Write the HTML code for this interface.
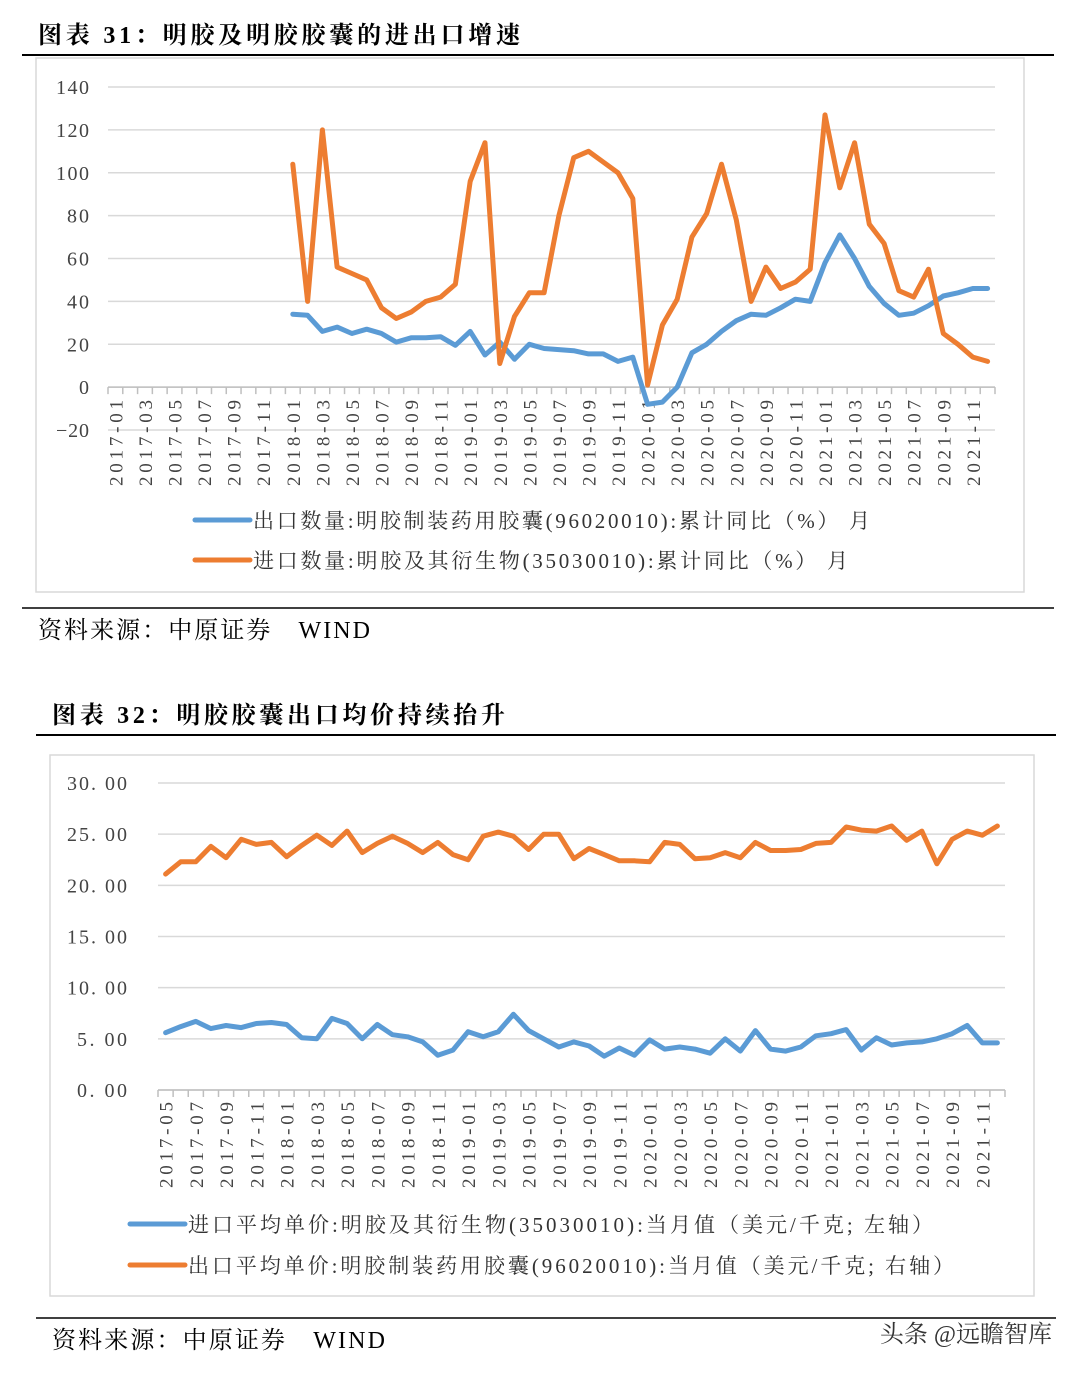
<!DOCTYPE html>
<html><head><meta charset="utf-8">
<style>
body{margin:0;background:#fff;width:1076px;height:1372px;overflow:hidden;font-family:"Liberation Serif","Noto Serif CJK SC",serif;}
svg text{font-family:"Liberation Serif","Noto Serif CJK SC",serif;}
</style></head>
<body>
<svg id="s" width="1076" height="1372" xmlns="http://www.w3.org/2000/svg">
<text x="38" y="43" font-size="24" font-weight="bold" fill="#000" textLength="482" lengthAdjust="spacing">图表 31：明胶及明胶胶囊的进出口增速</text>
<line x1="22" y1="55" x2="1054" y2="55" stroke="#000" stroke-width="2"/>
<rect x="36" y="58" width="988" height="534" fill="none" stroke="#d9d9d9" stroke-width="1.5"/>
<g id="c1"></g>
<line x1="22" y1="608" x2="1054" y2="608" stroke="#000" stroke-width="1.5"/>
<text x="38" y="638" font-size="24" textLength="332" lengthAdjust="spacing">资料来源：中原证券　WIND</text>

<text x="52" y="723" font-size="24" font-weight="bold" textLength="453" lengthAdjust="spacing">图表 32：明胶胶囊出口均价持续抬升</text>
<line x1="36" y1="735" x2="1056" y2="735" stroke="#000" stroke-width="2"/>
<rect x="50" y="755" width="984" height="541" fill="none" stroke="#d9d9d9" stroke-width="1.5"/>
<g id="c2"></g>
<line x1="36" y1="1318" x2="1056" y2="1318" stroke="#000" stroke-width="1.5"/>
<text x="52" y="1348" font-size="24" textLength="333" lengthAdjust="spacing">资料来源：中原证券　WIND</text>
<text x="1052" y="1342" font-size="24" text-anchor="end" fill="#333" font-family="Liberation Sans,Noto Sans CJK SC,sans-serif">头条 @远瞻智库</text>
</svg>
<script>
// Chart 1 data
const c1Months = [];
for(let y=2017;y<=2021;y++)for(let m=1;m<=12;m++)c1Months.push(y+'-'+String(m).padStart(2,'0'));
const c1Ticks = [-20,0,20,40,60,80,100,120,140];
const c1Start = 12; // series start at 2018-01
const c1Export = [34,33.5,26,28,25,27,25,21,23,23,23.5,19.5,26,15,21,13,20,18,17.5,17,15.5,15.5,12,14,-8,-7,0,16,20,26,31,34,33.5,37,41,40,58,71,60,47,39,33.5,34.5,38,42.5,44,46,46];
const c1Import = [104,40,120,56,53,50,37,32,35,40,42,48,96,114,11,33,44,44,80,107,110,105,100,88,1,29,41,70,81,104,78,40,56,46,49,55,127,93,114,76,67,45,42,55,25,20,14,12];
// Chart 2 data
const c2Months = [];
for(let i=0;i<56;i++){const t=2017*12+4+i;c2Months.push(Math.floor(t/12)+'-'+String(t%12+1).padStart(2,'0'));}
const c2Ticks = [0,5,10,15,20,25,30];
const c2Import = [5.6,6.2,6.7,6.0,6.3,6.1,6.5,6.6,6.4,5.1,5.0,7.0,6.5,5.0,6.4,5.4,5.2,4.7,3.4,3.9,5.7,5.2,5.7,7.4,5.8,5.0,4.2,4.7,4.3,3.3,4.1,3.4,4.9,4.0,4.2,4.0,3.6,5.0,3.8,5.8,4.0,3.8,4.2,5.3,5.5,5.9,3.9,5.1,4.4,4.6,4.7,5.0,5.5,6.3,4.6,4.6];
const c2Export = [21.1,22.3,22.3,23.8,22.7,24.5,24.0,24.2,22.8,23.9,24.9,23.9,25.3,23.2,24.1,24.8,24.1,23.2,24.2,23.0,22.5,24.8,25.2,24.8,23.5,25.0,25.0,22.6,23.6,23.0,22.4,22.4,22.3,24.2,24.0,22.6,22.7,23.2,22.7,24.2,23.4,23.4,23.5,24.1,24.2,25.7,25.4,25.3,25.8,24.4,25.3,22.1,24.5,25.3,24.9,25.8];

const NS='http://www.w3.org/2000/svg';
function mk(p,tag,at){const e=document.createElementNS(NS,tag);for(const k in at)e.setAttribute(k,at[k]);p.appendChild(e);return e;}

function chart(g,o){
  const xs=i=>o.x0+(i+0.5)*o.step;
  const ys=v=>o.yb-(v-o.ymin)*(o.yb-o.yt)/(o.ymax-o.ymin);
  o.ticks.forEach(t=>{
    const ln=mk(g,'line',{x1:o.x0,x2:o.x1,y1:ys(t),y2:ys(t),stroke:'#d9d9d9','stroke-width':1.5});
    
    
    const s=o.fmt(t);
    const tx=mk(g,'text',{x:o.lx,y:ys(t)+7,'text-anchor':'end','font-size':20,fill:'#444',textLength:s.length*o.cw,lengthAdjust:'spacing'});
    tx.textContent=s;
    
    
  });
  const ya=ys(o.axisAt);
  mk(g,'line',{x1:o.x0,x2:o.x1,y1:ya,y2:ya,stroke:'#bfbfbf','stroke-width':1.5});
  for(let i=0;i<=o.labels.length;i++){const x=o.x0+i*o.step;mk(g,'line',{x1:x,x2:x,y1:ya,y2:ya+7,stroke:'#bfbfbf','stroke-width':1.5});}
  o.labels.forEach((l,i)=>{
    if(i%2)return;
    const x=xs(i)+7, y=o.labY;
    const tx=mk(g,'text',{x:x,y:y,transform:`rotate(-90 ${x} ${y})`,'text-anchor':'end','font-size':19,fill:'#444',textLength:86,lengthAdjust:'spacing'});
    tx.textContent=l;
    
    
  });
  o.series.forEach(s=>{
    const pts=s.data.map((v,i)=>xs(i+s.start).toFixed(1)+','+ys(v).toFixed(1)).join(' ');
    const pl=mk(g,'polyline',{points:pts,fill:'none',stroke:s.color,'stroke-width':5,'stroke-linejoin':'round','stroke-linecap':'round'});
    
    
  });
  o.legend.forEach((L,i)=>{
    const y=L.y;
    mk(g,'line',{x1:L.x,x2:L.x+55,y1:y,y2:y,stroke:L.color,'stroke-width':5,'stroke-linecap':'round'});
    const tx=mk(g,'text',{x:L.x+58,y:y+8,'font-size':21,fill:'#333',textLength:L.len,lengthAdjust:'spacing'});
    tx.textContent=L.text;
    
    
  });
}
const g1=document.getElementById('c1');
chart(g1,{x0:108,x1:995,step:887/60,yt:87,yb:430,ymin:-20,ymax:140,ticks:c1Ticks,axisAt:0,lx:89,cw:11,fmt:t=>t<0?'−'+(-t):''+t,
  labels:c1Months,labY:400,
  series:[{data:c1Export,start:c1Start,color:'#5b9bd5',name:'export-volume-line'},{data:c1Import,start:c1Start,color:'#ed7d31',name:'import-volume-line'}],
  legend:[{x:195,y:520,color:'#5b9bd5',len:617,text:'出口数量:明胶制装药用胶囊(96020010):累计同比（%）  月'},
          {x:195,y:560,color:'#ed7d31',len:595,text:'进口数量:明胶及其衍生物(35030010):累计同比（%）  月'}]});
const g2=document.getElementById('c2');
chart(g2,{x0:158,x1:1005,step:847/56,yt:783,yb:1090,ymin:0,ymax:30,ticks:c2Ticks,axisAt:0,lx:127,cw:10,fmt:t=>t.toFixed(2).replace('.', '. '),
  labels:c2Months,labY:1102,
  series:[{data:c2Import,start:0,color:'#5b9bd5',name:'import-price-line'},{data:c2Export,start:0,color:'#ed7d31',name:'export-price-line'}],
  legend:[{x:130,y:1224,color:'#5b9bd5',len:745,text:'进口平均单价:明胶及其衍生物(35030010):当月值（美元/千克; 左轴）'},
          {x:130,y:1265,color:'#ed7d31',len:766,text:'出口平均单价:明胶制装药用胶囊(96020010):当月值（美元/千克; 右轴）'}]});
</script>
</body></html>
